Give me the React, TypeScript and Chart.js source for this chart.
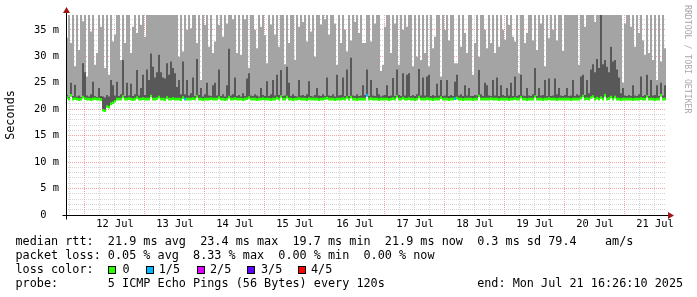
import React, { useEffect, useRef } from 'react';
import { Chart, registerables } from 'chart.js';

Chart.register(...registerables);

// ---- time axis (hours since start: Fri 11 Jul 16:26:10 2025, end Mon 21 Jul 16:26:10) ----
const SPAN_HOURS = 240;
const FIRST_GRID_HOUR = 1.564; // 11 Jul 18:00
const GRID_STEP_HOURS = 6;
const GRID_COUNT = 40;
const dayLabels = ['12 Jul', '13 Jul', '14 Jul', '15 Jul', '16 Jul', '17 Jul', '18 Jul', '19 Jul', '20 Jul', '21 Jul'];

// ---- y axis (milliseconds) ----
const Y_MAX_MS = 37.8;
const Y_GRID_COUNT = 38;

// ---- data: 300 columns, 48 minutes each (ms). 40 = above the top of the graph ----
const maxRtt = [
  33.5, 40, 32.5, 40, 28.1, 40, 31.2, 40, 36.6, 40,
  26.2, 40, 34.7, 40, 28.4, 30.6, 40, 35.6, 40, 27.8,
  40, 26.5, 40, 32.8, 34.1, 40, 40, 29.3, 40, 32.5,
  40, 40, 30.6, 35.6, 40, 34.4, 40, 35.9, 40, 33.7,
  40, 40, 40, 40, 40, 40, 40, 40, 40, 40,
  40, 40, 40, 40, 40, 40, 29.9, 40, 30.9, 40,
  35, 40, 35.3, 40, 40, 32.5, 40, 25.5, 40, 35.9,
  40, 31.8, 40, 30.6, 32.8, 40, 35.9, 40, 33.7, 40,
  36.2, 40, 40, 37, 40, 30.6, 40, 30.3, 40, 37,
  40, 27.8, 40, 40, 35, 31.5, 40, 35.6, 40, 34,
  28.7, 40, 36, 40, 34.1, 40, 31.8, 40, 40, 28.5,
  40, 32.5, 40, 40, 29.3, 40, 35.6, 40, 36.5, 40,
  32.8, 40, 34.7, 40, 29.9, 40, 40, 36, 40, 37,
  40, 34.1, 40, 40, 36.2, 28.4, 40, 32.5, 40, 35,
  30.9, 40, 33, 40, 36.5, 40, 34.4, 40, 32.5, 32.5,
  40, 40, 32.8, 40, 36.2, 40, 40, 27.2, 28.4, 35.6,
  40, 40, 30.6, 40, 36.2, 40, 28.4, 40, 35, 40,
  35.6, 40, 40, 28.1, 40, 29.9, 40, 29.3, 40, 30.6,
  40, 28.1, 40, 31.5, 33.7, 40, 40, 26.2, 40, 35,
  40, 33, 40, 40, 28.7, 28.7, 40, 31.8, 40, 34.4,
  30.6, 40, 40, 26.5, 32.5, 40, 29.9, 40, 40, 35,
  31.5, 40, 32.5, 40, 30.6, 40, 31.8, 40, 35, 33.1,
  40, 35.9, 40, 33.7, 32.8, 40, 26.8, 40, 40, 32.5,
  34.4, 40, 40, 33, 40, 31.2, 40, 36.2, 40, 28.1,
  40, 33.4, 40, 35, 40, 33, 40, 40, 31, 40,
  40, 40, 40, 40, 40, 40, 28.4, 40, 40, 35.6,
  40, 40, 40, 40, 36.5, 40, 40, 40, 40, 40,
  40, 40, 40, 40, 40, 40, 40, 40, 25, 36.2,
  40, 40, 35.6, 40, 31.8, 40, 34.4, 40, 33, 30.3,
  40, 30.6, 40, 29.3, 40, 25.5, 40, 29, 40, 31.5,
];

const upperRtt = [
  22.7, 22.3, 25.0, 22.5, 24.6, 22.4, 22.6, 22.3, 28.7, 27.0,
  22.6, 22.4, 22.8, 25.2, 22.5, 22.3, 24.0, 22.5, 22.4, 22.2,
  22.7, 22.4, 25.5, 24.5, 22.6, 25.2, 22.5, 22.8, 29.3, 22.5,
  25.0, 22.6, 24.8, 22.5, 22.8, 27.4, 22.6, 24.0, 26.5, 22.7,
  27.5, 25.5, 30.5, 28.0, 26.0, 27.0, 30.3, 27.0, 26.0, 25.8,
  28.7, 26.5, 29.0, 27.8, 26.8, 24.2, 25.5, 22.8, 29.0, 22.8,
  25.5, 22.6, 23.0, 26.0, 22.5, 29.5, 22.7, 24.0, 22.4, 22.8,
  25.0, 22.6, 22.5, 24.5, 25.0, 22.6, 27.5, 22.5, 22.8, 22.4,
  24.5, 31.4, 22.6, 22.8, 26.0, 22.5, 22.7, 22.4, 23.0, 22.5,
  25.8, 26.8, 22.6, 22.5, 22.8, 22.6, 22.4, 24.0, 22.7, 22.5,
  25.3, 22.5, 22.8, 25.5, 22.6, 26.5, 22.7, 27.4, 22.5, 22.6,
  28.0, 25.0, 22.5, 22.8, 22.5, 22.4, 25.5, 22.6, 22.7, 22.5,
  22.8, 25.3, 22.5, 22.4, 22.7, 24.0, 22.6, 22.5, 22.8, 22.5,
  26.0, 22.6, 22.5, 22.8, 22.4, 26.5, 22.6, 22.7, 26.0, 22.5,
  27.5, 22.5, 29.7, 22.6, 22.5, 22.8, 22.5, 22.6, 24.5, 22.7,
  27.5, 22.5, 25.5, 22.6, 22.5, 24.0, 22.8, 22.4, 22.6, 22.7,
  24.5, 22.5, 22.6, 25.9, 22.5, 27.5, 22.7, 22.5, 26.8, 22.6,
  26.5, 26.8, 22.5, 22.7, 22.5, 22.8, 27.6, 22.6, 26.0, 22.6,
  26.2, 26.5, 22.5, 22.7, 22.5, 24.8, 22.6, 25.5, 22.5, 22.6,
  25.5, 22.5, 22.7, 22.5, 25.2, 26.5, 22.6, 22.8, 22.5, 24.5,
  22.6, 24.0, 22.5, 22.5, 22.7, 22.6, 27.4, 22.8, 22.5, 25.0,
  24.5, 22.6, 22.5, 25.5, 22.6, 26.0, 22.5, 24.5, 22.7, 22.5,
  24.0, 22.6, 25.0, 22.5, 26.2, 22.5, 22.7, 26.5, 22.6, 22.5,
  24.0, 22.6, 22.5, 22.8, 27.8, 22.5, 24.0, 22.6, 22.7, 25.5,
  22.5, 25.8, 22.5, 22.6, 25.8, 22.8, 24.0, 22.6, 22.5, 22.7,
  24.0, 22.5, 22.6, 25.5, 22.5, 22.8, 22.6, 26.2, 26.5, 22.7,
  25.5, 23.0, 27.5, 28.5, 27.0, 29.5, 27.8, 40, 28.5, 29.3,
  28.0, 27.0, 31.8, 29.0, 29.3, 27.5, 26.0, 23.0, 24.0, 22.6,
  22.5, 22.7, 22.5, 24.5, 22.6, 22.5, 22.8, 26.2, 22.5, 22.7,
  26.5, 22.5, 25.5, 22.6, 22.7, 24.5, 22.5, 25.0, 22.6, 24.5,
];

const medianRtt = [
  22.2, 21.9, 22.6, 21.9, 22.0, 21.9, 21.8, 21.9, 22.3, 22.0,
  21.9, 21.9, 21.8, 21.9, 22.0, 21.9, 21.9, 21.8, 19.8, 19.7,
  20.5, 20.4, 21.0, 21.2, 21.5, 21.9, 21.9, 21.9, 22.4, 21.9,
  21.9, 22.0, 21.9, 21.8, 21.9, 22.2, 21.9, 21.9, 22.0, 21.9,
  21.9, 21.9, 22.5, 21.9, 21.9, 22.0, 22.3, 21.9, 21.9, 21.8,
  22.2, 21.9, 21.9, 22.0, 21.9, 21.9, 21.9, 21.8, 22.2, 21.9,
  21.9, 21.9, 21.9, 22.0, 21.9, 22.4, 21.9, 21.9, 21.8, 21.9,
  21.9, 21.9, 22.0, 21.9, 21.9, 21.9, 22.2, 21.9, 21.9, 21.8,
  21.9, 22.3, 21.9, 21.9, 22.0, 21.9, 21.9, 21.9, 21.8, 21.9,
  22.0, 22.2, 21.9, 21.9, 21.9, 21.8, 21.9, 21.9, 22.0, 21.9,
  21.9, 21.9, 21.8, 21.9, 21.9, 22.1, 21.9, 22.4, 21.9, 21.9,
  22.3, 21.9, 21.9, 21.8, 21.9, 21.9, 22.0, 21.9, 21.9, 21.9,
  21.8, 22.0, 21.9, 21.9, 21.9, 21.9, 21.8, 21.9, 21.9, 22.0,
  22.1, 21.9, 21.9, 21.9, 21.8, 21.9, 21.9, 21.9, 22.0, 21.9,
  22.2, 21.9, 22.3, 21.9, 21.9, 21.8, 21.9, 21.9, 21.9, 21.9,
  22.6, 21.9, 22.0, 21.9, 21.9, 21.9, 21.8, 21.9, 21.9, 21.9,
  21.9, 21.8, 21.9, 22.0, 21.9, 22.4, 21.9, 21.9, 22.1, 21.9,
  21.9, 22.0, 21.9, 21.9, 21.8, 21.9, 22.3, 21.9, 21.9, 21.9,
  22.0, 21.9, 21.9, 21.8, 21.9, 21.9, 21.9, 22.2, 21.9, 21.9,
  21.9, 21.8, 21.9, 21.9, 22.0, 22.1, 21.9, 21.9, 21.8, 21.9,
  21.9, 21.9, 21.9, 21.8, 21.9, 21.9, 22.5, 21.9, 21.9, 21.9,
  21.9, 21.9, 22.0, 21.9, 21.9, 21.9, 21.8, 21.9, 21.9, 21.9,
  21.9, 21.8, 21.9, 21.9, 22.0, 21.9, 21.9, 22.3, 21.9, 21.9,
  21.8, 21.9, 21.9, 21.9, 22.4, 21.9, 21.9, 21.9, 21.8, 21.9,
  21.9, 22.0, 21.9, 21.9, 21.9, 21.8, 21.9, 21.9, 21.9, 21.9,
  21.9, 21.9, 21.8, 21.9, 21.9, 21.9, 21.9, 22.1, 22.5, 21.9,
  22.0, 21.9, 22.2, 22.4, 21.9, 22.1, 21.9, 22.2, 21.9, 22.6,
  21.9, 22.0, 22.3, 21.9, 22.3, 21.9, 21.9, 21.8, 21.9, 21.9,
  21.9, 21.9, 21.9, 21.8, 21.9, 21.9, 21.9, 22.0, 21.9, 21.9,
  22.4, 21.9, 21.9, 21.9, 21.8, 21.9, 21.9, 22.6, 21.9, 21.9,
];

// columns with packet loss, and the loss level (pings lost of 5)
const lossColumns = [59, 150, 194];
const lossLevels = [1, 1, 1];

const lossLabels = ['0', '1/5', '2/5', '3/5', '4/5'];
const lossColors = ['#26ff00', '#00b8ff', '#dd00ff', '#5e00ff', '#ff0000'];

// ---- legend text ----
const legendLines = [
  'median rtt:  21.9 ms avg  23.4 ms max  19.7 ms min  21.9 ms now  0.3 ms sd 79.4    am/s',
  'packet loss: 0.05 % avg  8.33 % max  0.00 % min  0.00 % now',
  'loss color:',
  'probe:       5 ICMP Echo Pings (56 Bytes) every 120s             end: Mon Jul 21 16:26:10 2025',
];

// ---- styling ----
const MONO = "'DejaVu Sans Mono', monospace";
const SMOKE_OUTER = '#a4a4a4';
const SMOKE_INNER = '#585858';
const GRID_RED = 'rgba(230,40,40,0.42)';
const GRID_GREY = 'rgba(185,185,185,0.6)';
const ARROW = '#a01515';
const MEDIAN_HALF = 0.25;

const rrdAxes = {
  id: 'rrdAxes',
  afterDraw(chart: any) {
    const { ctx, chartArea } = chart;
    const l = Math.round(chartArea.left) + 0.5;
    const b = Math.round(chartArea.bottom) + 0.5;
    ctx.save();
    ctx.strokeStyle = '#000';
    ctx.lineWidth = 1;
    ctx.beginPath();
    ctx.moveTo(l, b + 4);
    ctx.lineTo(l, 12);
    ctx.moveTo(l - 4, b);
    ctx.lineTo(chartArea.right + 3, b);
    ctx.stroke();
    ctx.fillStyle = ARROW;
    ctx.beginPath();
    ctx.moveTo(l - 3.5, 13);
    ctx.lineTo(l + 3.5, 13);
    ctx.lineTo(l, 7);
    ctx.closePath();
    ctx.fill();
    const ax = chartArea.right + 2;
    ctx.beginPath();
    ctx.moveTo(ax, b - 3.5);
    ctx.lineTo(ax, b + 3.5);
    ctx.lineTo(ax + 6, b);
    ctx.closePath();
    ctx.fill();
    ctx.restore();
  },
};

function buildConfig(): any {
  const labels = medianRtt.map((_, i) => String(i));
  const medianColors = medianRtt.map((_, i) => {
    const k = lossColumns.indexOf(i);
    return lossColors[k >= 0 ? lossLevels[k] : 0];
  });
  const xGrid = Array.from({ length: GRID_COUNT }, (_, k) => FIRST_GRID_HOUR + k * GRID_STEP_HOURS);
  const yGrid = Array.from({ length: Y_GRID_COUNT }, (_, k) => k);

  return {
    type: 'bar',
    data: {
      labels,
      datasets: [
        {
          label: 'median',
          data: medianRtt.map((m) => [m - MEDIAN_HALF, m + MEDIAN_HALF]),
          backgroundColor: medianColors,
          order: 1,
          xAxisID: 'xc',
          yAxisID: 'y',
        },
        {
          label: 'inner smoke',
          data: upperRtt.map((v, i) => [medianRtt[i], v]),
          backgroundColor: SMOKE_INNER,
          order: 2,
          xAxisID: 'xc',
          yAxisID: 'y',
        },
        {
          label: 'outer smoke',
          data: maxRtt.map((v, i) => [medianRtt[i], v]),
          backgroundColor: SMOKE_OUTER,
          order: 3,
          xAxisID: 'xc',
          yAxisID: 'y',
        },
      ],
    },
    options: {
      responsive: false,
      animation: false,
      devicePixelRatio: 1,
      events: [],
      layout: { padding: { top: 15, right: 31, left: 0, bottom: 0 } },
      datasets: {
        bar: { grouped: false, barPercentage: 1, categoryPercentage: 1, inflateAmount: 0, borderWidth: 0 },
      },
      plugins: { legend: { display: false }, tooltip: { enabled: false }, title: { display: false } },
      scales: {
        xc: { type: 'category', display: false, offset: true, grid: { offset: true } },
        x: {
          type: 'linear',
          position: 'bottom',
          min: 0,
          max: SPAN_HOURS,
          offset: false,
          z: 1,
          afterBuildTicks: (s: any) => {
            s.ticks = xGrid.map((v) => ({ value: v }));
          },
          afterFit: (s: any) => {
            s.height = 25;
          },
          grid: {
            offset: false,
            drawTicks: false,
            lineWidth: 1,
            color: (c: any) => (c.index % 4 === 1 ? GRID_RED : GRID_GREY),
          },
          border: { display: false, dash: [1, 1] },
          ticks: {
            autoSkip: false,
            maxRotation: 0,
            minRotation: 0,
            padding: 3,
            color: '#000',
            font: { family: MONO, size: 10.4 },
            callback: (_v: any, i: number) => (i % 4 === 3 ? dayLabels[(i - 3) / 4] : ''),
          },
        },
        y: {
          type: 'linear',
          position: 'left',
          min: 0,
          max: Y_MAX_MS,
          z: 1,
          afterBuildTicks: (s: any) => {
            s.ticks = yGrid.map((v) => ({ value: v }));
          },
          afterFit: (s: any) => {
            s.width = 66;
          },
          grid: {
            drawTicks: false,
            lineWidth: 1,
            color: (c: any) => (c.tick && c.tick.value % 5 === 0 ? GRID_RED : GRID_GREY),
          },
          border: { display: false, dash: [1, 1] },
          ticks: {
            autoSkip: false,
            padding: 7,
            color: '#000',
            font: { family: MONO, size: 10.4 },
            callback: (v: any) => (v % 5 === 0 ? (v === 0 ? '0  ' : v + ' m') : ''),
          },
          title: {
            display: true,
            text: 'Seconds',
            color: '#000',
            font: { family: MONO, size: 11.8 },
            padding: { top: 4, bottom: 0 },
          },
        },
      },
    },
    plugins: [rrdAxes],
  };
}

const textBase: React.CSSProperties = {
  position: 'absolute',
  fontFamily: MONO,
  fontSize: '11.8px',
  lineHeight: '14px',
  whiteSpace: 'pre',
  color: '#000',
};

const LINE_TOP = [234, 248, 262, 276];

export default function App() {
  const ref = useRef<HTMLCanvasElement>(null);
  useEffect(() => {
    const chart = new Chart(ref.current as HTMLCanvasElement, buildConfig());
    return () => chart.destroy();
  }, []);

  const boxLeft = [108, 146, 197, 247, 298];
  const boxLabelLeft = [122.5, 158.7, 210, 261, 311];

  return (
    <div style={{ position: 'absolute', left: 0, top: 0, width: 697, height: 297, background: '#fff', overflow: 'hidden' }}>
      <canvas ref={ref} width={697} height={240} style={{ position: 'absolute', left: 0, top: 0, width: 697, height: 240 }} />
      <div
        style={{
          position: 'absolute',
          left: 683,
          top: 5,
          writingMode: 'vertical-rl',
          fontFamily: MONO,
          fontSize: '8.2px',
          lineHeight: '9px',
          color: '#a8a8a8',
          whiteSpace: 'pre',
        }}
      >
        RRDTOOL / TOBI OETIKER
      </div>

      {legendLines.map((line, i) => (
        <div key={i} style={{ ...textBase, left: 15.5, top: LINE_TOP[i] }}>
          {line}
        </div>
      ))}

      {lossLabels.map((lab, i) => (
        <React.Fragment key={lab}>
          <div
            style={{
              position: 'absolute',
              left: boxLeft[i],
              top: 266,
              width: 8,
              height: 8,
              boxSizing: 'border-box',
              border: '1px solid #000',
              background: lossColors[i],
            }}
          />
          <div style={{ ...textBase, left: boxLabelLeft[i], top: LINE_TOP[2] }}>{lab}</div>
        </React.Fragment>
      ))}
    </div>
  );
}
